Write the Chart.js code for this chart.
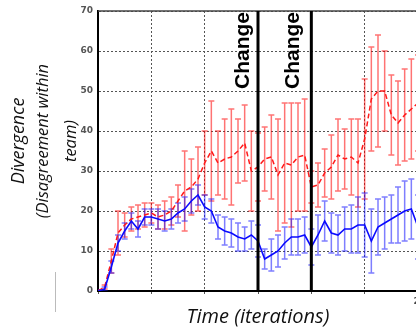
<!DOCTYPE html>
<html><head><meta charset="utf-8">
<script src="https://cdn.jsdelivr.net/npm/chart.js@4/dist/chart.umd.min.js"></script>
<style>
html,body{margin:0;padding:0;background:#fff;overflow:hidden;width:416px;height:329px}
#wrap{position:relative;width:440px;height:329px}
</style>
</head><body><div id="wrap"><canvas id="c" width="440" height="329"></canvas></div>
<script>
const iterations = [0,5,10,15,20,25,30,35,40,45,50,55,60,65,70,75,80,85,90,95,100,105,110,115,120,125,130,135,140,145,150,155,160,165,170,175,180,185,190,195,200,205,210,215,220,225,230,235,240];
const blueMean = [0,0.5,6,12,15,17.5,15.5,18.5,18.5,18,17.5,18,19.5,20.5,22.5,24,21,20,16,15,14.5,13.5,13,14,12.5,8,9,10,12,13.5,13.5,14,11,14,17.5,14.5,14,15.5,15.5,16.5,16.5,12.5,16,17,18,19,20,20.5,16];
const blueErr  = [0.3,0.5,1.5,2,2,2,2,2,2,2.5,2.5,2.5,2.5,3,3,2.5,3,3,3,3.5,3.5,3.5,3,3.5,4,2.5,4,4,4,4.5,4.5,4.5,4.5,5,5,5,5,5.5,6,7,8,8,7,6.5,6,7,7.5,7.5,8];
const redMean  = [0,1,7.5,14.5,16.5,18,18.5,19,19.5,18.5,19,20,22.5,25,26,28,32,35,32,33,33.5,35,37,30,31,33,33.5,29,32,31.5,33.5,34,26,26.5,29.5,31,34,33,33.5,32,38,48,50,50,44,42,44,45.5,47];
const redErr   = [0.3,0.5,3,5.5,3,3,3,3,2.5,3,3.5,3.5,4,10,7,8,8,12.5,8,10,12,8,9.5,10,8.5,8,10.5,14,15,15.5,13.5,14,4,5.5,6,8,9,7.5,9.5,11,15,13,14,10,10,10.5,11.5,12.5,12];
const changeIterations = [120,160];
const changeLabels = ['Change','Change'];
const yTitleLines = ['Divergence','(Disagreement within','team)'];
const xTitle = 'Time (iterations)';

const errorBarPlugin = {
  id:'errorBars',
  beforeDatasetsDraw(chart){
    const {ctx, scales:{x,y}, chartArea:a} = chart;
    ctx.save();
    ctx.beginPath(); ctx.rect(a.left, a.top-2, a.right-a.left, a.bottom-a.top+2); ctx.clip();
    const sets = [{m:redMean,e:redErr,c:'rgba(255,0,0,0.55)'},{m:blueMean,e:blueErr,c:'rgba(20,20,255,0.55)'}];
    sets.forEach(s=>{
      ctx.strokeStyle = s.c; ctx.lineWidth = 1.5;
      iterations.forEach((it,i)=>{
        const px = x.getPixelForValue(it);
        const y1 = y.getPixelForValue(s.m[i]-s.e[i]), y2 = y.getPixelForValue(s.m[i]+s.e[i]);
        ctx.beginPath();
        ctx.moveTo(px,y1); ctx.lineTo(px,y2);
        ctx.moveTo(px-3,y1); ctx.lineTo(px+3,y1);
        ctx.moveTo(px-3,y2); ctx.lineTo(px+3,y2);
        ctx.stroke();
      });
    });
    ctx.restore();
  }
};

const decorPlugin = {
  id:'decor',
  afterDatasetsDraw(chart){
    const {ctx, scales:{x,y}, chartArea:a} = chart;
    ctx.save();
    // top border
    ctx.strokeStyle = '#444'; ctx.lineWidth = 1.5;
    ctx.beginPath(); ctx.moveTo(a.left, a.top); ctx.lineTo(a.right, a.top); ctx.stroke();
    // change lines
    const offs = [-9,-12];
    changeIterations.forEach((it,i)=>{
      const px = x.getPixelForValue(it);
      ctx.strokeStyle = '#000'; ctx.lineWidth = 3;
      ctx.beginPath(); ctx.moveTo(px, a.top); ctx.lineTo(px, a.bottom); ctx.stroke();
      ctx.save();
      ctx.translate(px+offs[i], a.top+1);
      ctx.rotate(-Math.PI/2);
      ctx.fillStyle = '#000';
      ctx.font = 'bold 21px "Liberation Sans", Arial, sans-serif';
      ctx.textAlign = 'right'; ctx.textBaseline = 'alphabetic';
      ctx.fillText(changeLabels[i], 0, 0);
      ctx.restore();
    });
    // y title
    const sizes = [18,16.5,16.5];
    const base = [24,48,76];
    yTitleLines.forEach((t,i)=>{
      ctx.save();
      ctx.translate(base[i], 141);
      ctx.rotate(-Math.PI/2);
      ctx.fillStyle = '#111';
      ctx.font = 'italic ' + sizes[i] + 'px "Open Sans", sans-serif';
      ctx.textAlign = 'center'; ctx.textBaseline = 'alphabetic';
      ctx.fillText(t, 0, 0);
      ctx.restore();
    });
    // small grey mark
    ctx.strokeStyle = '#bbb'; ctx.lineWidth = 1;
    ctx.beginPath(); ctx.moveTo(55.5, 272); ctx.lineTo(55.5, 312); ctx.stroke();
    ctx.restore();
  }
};

new Chart(document.getElementById('c'), {
  type:'line',
  data:{
    datasets:[
      {label:'blue', data:iterations.map((it,i)=>({x:it,y:blueMean[i]})), borderColor:'#0a0aff', borderWidth:1.6, pointRadius:0, tension:0, fill:false},
      {label:'red', data:iterations.map((it,i)=>({x:it,y:redMean[i]})), borderColor:'#ff1a1a', borderWidth:1.5, borderDash:[5,3], pointRadius:0, tension:0, fill:false}
    ]
  },
  options:{
    responsive:false, animation:false, devicePixelRatio:1,
    layout:{padding:{left:68,right:22,top:11,bottom:0}},
    plugins:{legend:{display:false}, tooltip:{enabled:false}},
    scales:{
      x:{type:'linear', min:0, max:240,
        ticks:{stepSize:40, autoSkip:false, maxRotation:0, padding:2, labelOffset:5,
          color:(c)=> c.tick && c.tick.value===240 ? '#444' : 'rgba(0,0,0,0)',
          font:{family:'DejaVu Sans', weight:'bold', size:9}},
        grid:{color:'#555', lineWidth:1, drawTicks:true, tickLength:3},
        border:{display:true, color:'#000', width:2, dash:[2,2]},
        title:{display:true, text:xTitle, color:'#111', padding:{top:0,bottom:0},
          font:{family:'Open Sans', style:'italic', size:20}},
        afterFit(s){ s.height = 38; }
      },
      y:{min:0, max:70,
        ticks:{stepSize:10, color:'#555', padding:5, font:{family:'DejaVu Sans', weight:'bold', size:9}},
        grid:{color:'#555', lineWidth:1, drawTicks:false},
        border:{display:true, color:'#000', width:2, dash:[2,2]},
        afterFit(s){ s.width = 30; }
      }
    }
  },
  plugins:[errorBarPlugin, decorPlugin]
});
</script>
</body></html>
